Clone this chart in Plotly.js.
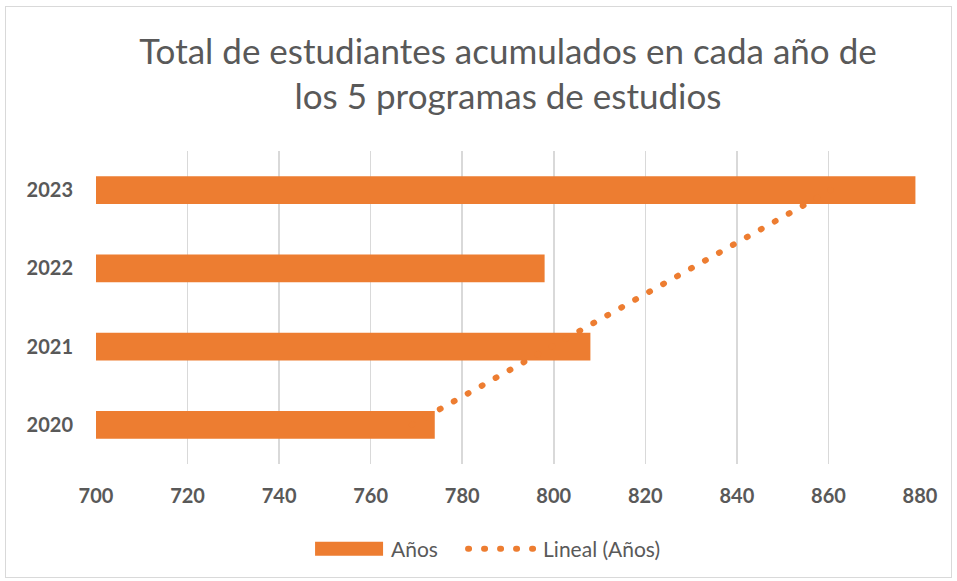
<!DOCTYPE html>
<html>
<head>
<meta charset="utf-8">
<script src="https://cdn.plot.ly/plotly-3.0.1.min.js"></script>
<style>
  html, body { margin: 0; padding: 0; background: #fff; }
  #wrap { position: relative; width: 957px; height: 581px; }
  #chart { width: 957px; height: 581px; }
  #frame { position: absolute; left: 5px; top: 6px; width: 945px; height: 570px; border: 1px solid #d9d9d9; pointer-events: none; }
  .js-line { stroke-linecap: round; }
</style>
</head>
<body>
<div id="wrap">
  <div id="chart"></div>
  <div id="frame"></div>
</div>
<script>
const years = ['2020', '2021', '2022', '2023'];
const totals = [774, 808, 798, 879];
const xTicks = [700, 720, 740, 760, 780, 800, 820, 840, 860, 880];
const barName = 'Años';
const trendName = 'Lineal (Años)';
const titleText = 'Total de estudiantes acumulados en cada año de<br>los 5 programas de estudios';

// Linear (least squares) trendline over the category index, as the spreadsheet does
const n = totals.length;
const idx = totals.map((_, i) => i);
const mx = idx.reduce((a, b) => a + b, 0) / n;
const my = totals.reduce((a, b) => a + b, 0) / n;
let sxy = 0, sxx = 0;
for (let i = 0; i < n; i++) { sxy += (idx[i] - mx) * (totals[i] - my); sxx += (idx[i] - mx) ** 2; }
const slope = sxy / sxx;
const intercept = my - slope * mx;
const trendX = [intercept, intercept + slope * (n - 1)];
const trendY = [years[0], years[n - 1]];

const orange = '#ED7D31';
const grey = '#595959';
const font = 'Lato, "Open Sans", sans-serif';

const data = [
  {
    type: 'bar', orientation: 'h', name: barName,
    x: totals, y: years,
    marker: { color: orange },
    hoverinfo: 'x+y'
  },
  {
    type: 'scatter', mode: 'lines', name: trendName,
    x: trendX, y: trendY,
    line: { color: orange, width: 6, dash: '1px,15px' },
    hoverinfo: 'skip'
  }
];

const layout = {
  width: 957, height: 581,
  margin: { l: 96, r: 37, t: 151, b: 117 },
  paper_bgcolor: '#ffffff', plot_bgcolor: '#ffffff',
  font: { family: font, color: grey },
  title: {
    text: titleText,
    font: { family: font, size: 35, color: grey },
    x: 0.5, xanchor: 'center', xref: 'paper',
    y: 0.890, yanchor: 'middle', yref: 'container'
  },
  bargap: 0.646,
  showlegend: true,
  legend: {
    orientation: 'h', x: 0.261, xanchor: 'left', xref: 'paper',
    y: 0.055, yanchor: 'middle', yref: 'container',
    font: { family: font, size: 21, color: grey },
    traceorder: 'normal', itemwidth: 70
  },
  xaxis: {
    range: [700, 880], tickvals: xTicks, ticktext: xTicks.map(String),
    showgrid: true, gridcolor: '#d9d9d9', gridwidth: 1.5,
    zeroline: false, showline: false, ticks: '',
    tickfont: { family: font, size: 20, color: grey, weight: 'bold' },
    ticklabelstandoff: 18
  },
  yaxis: {
    type: 'category', categoryorder: 'array', categoryarray: years,
    range: [-0.5, 3.5],
    showgrid: false, zeroline: false, showline: false, ticks: '',
    tickfont: { family: font, size: 20, color: grey, weight: 'bold' },
    ticklabelstandoff: 22
  }
};

function localOffset(el, ref) {
  const m = ref.getCTM().inverse().multiply(el.getCTM());
  return { x: m.e, y: m.f };
}
function getTranslate(g) {
  const t = g.getAttribute('transform') || '';
  const m = t.match(/translate\(\s*([-\d.e]+)[ ,]+([-\d.e]+)\s*\)/);
  return m ? { x: +m[1], y: +m[2] } : { x: 0, y: 0 };
}

Plotly.newPlot('chart', data, layout, { displayModeBar: false, staticPlot: true }).then(gd => {
  // Let the legend entries show in full
  gd.querySelectorAll('.legend [clip-path]').forEach(el => el.removeAttribute('clip-path'));
  // Widen the legend swatches to the spreadsheet look (long bar, row of dots)
  const items = gd.querySelectorAll('.legend .traces');
  items.forEach((g, i) => {
    const txt = g.querySelector('text.legendtext');
    if (!txt) return;
    const tx = txt.getBBox().x;
    const right = tx - 8, left = right - 68;
    if (i === 0) {
      g.querySelectorAll('.legendpoints path').forEach(p => {
        const o = localOffset(p, g);
        p.setAttribute('d', `M${left - o.x},${-7 - o.y}H${right - o.x}V${7 - o.y}H${left - o.x}Z`);
      });
    } else {
      g.querySelectorAll('.legendpoints path.js-line').forEach(p => {
        const o = localOffset(p, g);
        p.setAttribute('d', `M${left + 3 - o.x},${-o.y}H${right - 2 - o.x}`);
      });
    }
  });
  // Space the two entries as in the reference
  if (items.length > 1) {
    const a = getTranslate(items[0]);
    const b = getTranslate(items[1]);
    items[1].setAttribute('transform', `translate(${a.x + 152},${b.y})`);
  }
});
</script>
</body>
</html>
